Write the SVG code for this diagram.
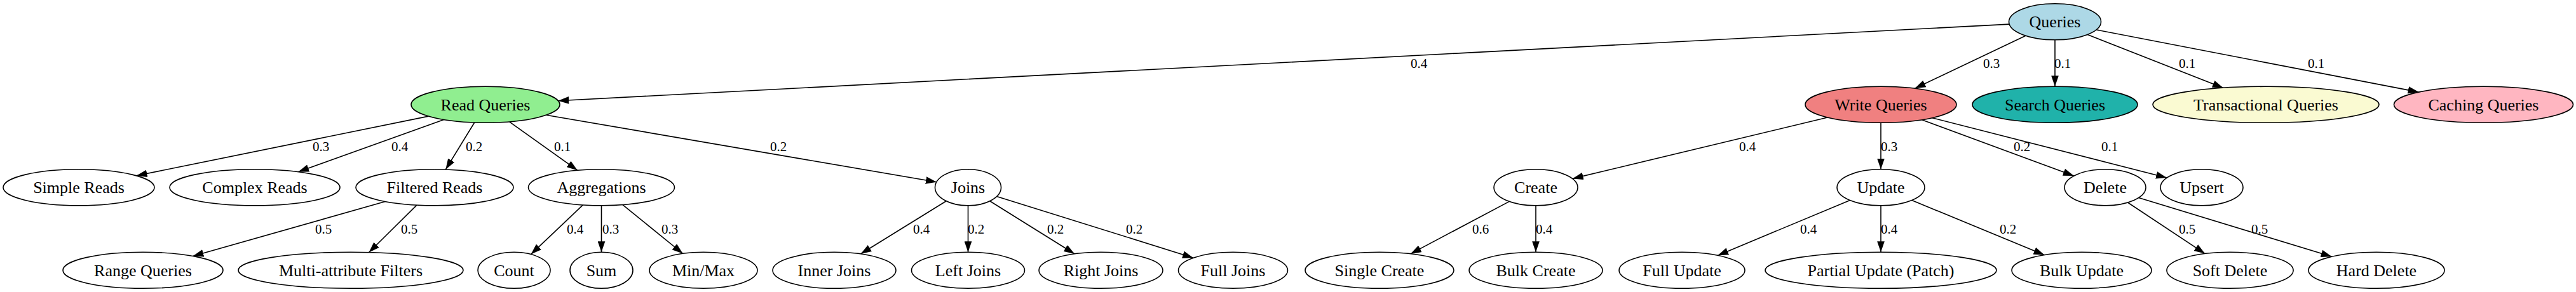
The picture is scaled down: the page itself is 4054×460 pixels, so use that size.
<svg xmlns="http://www.w3.org/2000/svg" width="4054" height="460" viewBox="0 0 4054 460">
<style>
.n ellipse{stroke:#000;stroke-width:1.6;fill:#fff}
.n text{font-family:"Liberation Serif","Times New Roman",serif;font-size:26px;text-anchor:middle;fill:#000}
.e path{stroke:#000;stroke-width:1.6;fill:none;marker-end:url(#ah)}
.e text{font-family:"Liberation Serif","Times New Roman",serif;font-size:21px;fill:#000}
</style>
<defs>
<marker id="ah" markerUnits="userSpaceOnUse" markerWidth="17" markerHeight="12" viewBox="0 0 16 11" refX="16" refY="5.5" orient="auto">
<path d="M0,0 L16,5.5 L0,11 Z" fill="#000"/>
</marker>
</defs>
<rect width="4054" height="460" fill="#fff"/>
<g id="edges" class="e">
<path d="M3162.1,38.1 L878.3,158.8"/><text x="2220" y="107.3">0.4</text>
<path d="M3187.9,56.3 L3013.5,139.3"/><text x="3121" y="107.3">0.3</text>
<path d="M3234,62.8 L3234,136.3"/><text x="3233" y="107.3">0.1</text>
<path d="M3285.3,54.5 L3498.9,138.4"/><text x="3429" y="107.3">0.1</text>
<path d="M3299,46.9 L3806.6,145.1"/><text x="3632" y="107.3">0.1</text>
<path d="M674.3,183.1 L214.6,276.8"/><text x="492" y="237.5">0.3</text>
<path d="M698.4,188.4 L469.2,270.8"/><text x="616" y="237.5">0.4</text>
<path d="M746.7,193 L701.3,267.1"/><text x="733" y="237.5">0.2</text>
<path d="M801.7,191.8 L908.9,268.4"/><text x="872" y="237.5">0.1</text>
<path d="M859.6,181.2 L1473.9,286.8"/><text x="1212" y="237.5">0.2</text>
<path d="M2876,185 L2474.7,281.4"/><text x="2737" y="237.5">0.4</text>
<path d="M2960,193.3 L2960,266.8"/><text x="2960" y="237.5">0.3</text>
<path d="M3024.7,188.7 L3263.8,277.1"/><text x="3169" y="237.5">0.2</text>
<path d="M3040.9,185.7 L3410,280"/><text x="3307" y="237.5">0.1</text>
<path d="M606.1,317.5 L303.4,403.5"/><text x="496" y="368">0.5</text>
<path d="M655.9,323.1 L580.4,397.7"/><text x="631" y="368">0.5</text>
<path d="M917.4,322.9 L835.6,400.6"/><text x="892" y="368">0.4</text>
<path d="M946.5,323.8 L946.5,397.3"/><text x="948" y="368">0.3</text>
<path d="M980,322.6 L1074.6,399.5"/><text x="1041" y="368">0.3</text>
<path d="M1489.1,316.7 L1354.5,400"/><text x="1437" y="368">0.4</text>
<path d="M1523.5,323.8 L1523.5,397.3"/><text x="1523" y="368">0.2</text>
<path d="M1557.8,316.7 L1691.2,400"/><text x="1648" y="368">0.2</text>
<path d="M1568.7,309.4 L1878,406.2"/><text x="1772" y="368">0.2</text>
<path d="M2375.3,317.4 L2219.8,399.9"/><text x="2317" y="368">0.6</text>
<path d="M2417,323.8 L2417,397.3"/><text x="2417" y="368">0.4</text>
<path d="M2911.4,315.5 L2703.2,402.4"/><text x="2833" y="368">0.4</text>
<path d="M2960,323.8 L2960,397.3"/><text x="2960" y="368">0.4</text>
<path d="M3008.8,315.5 L3217.5,401.7"/><text x="3147" y="368">0.2</text>
<path d="M3348.6,319 L3470.1,399.6"/><text x="3429" y="368">0.5</text>
<path d="M3365.8,311.4 L3669.7,404.3"/><text x="3543" y="368">0.5</text>
</g>
<g id="queries" class="n"><ellipse cx="3234" cy="34.3" rx="72.5" ry="28.5" style="fill:#add8e6"/><text x="3234" y="43.3">Queries</text></g>
<g id="read_queries" class="n"><ellipse cx="764" cy="164.8" rx="117" ry="28.5" style="fill:#90ee90"/><text x="764" y="173.8">Read Queries</text></g>
<g id="write_queries" class="n"><ellipse cx="2960" cy="164.8" rx="119" ry="28.5" style="fill:#f08080"/><text x="2960" y="173.8">Write Queries</text></g>
<g id="search_queries" class="n"><ellipse cx="3234" cy="164.8" rx="130" ry="28.5" style="fill:#20b2aa"/><text x="3234" y="173.8">Search Queries</text></g>
<g id="transactional_queries" class="n"><ellipse cx="3566" cy="164.8" rx="178" ry="28.5" style="fill:#fafad2"/><text x="3566" y="173.8">Transactional Queries</text></g>
<g id="caching_queries" class="n"><ellipse cx="3908.5" cy="164.8" rx="141" ry="28.5" style="fill:#ffb6c1"/><text x="3908.5" y="173.8">Caching Queries</text></g>
<g id="simple_reads" class="n"><ellipse cx="124" cy="295.3" rx="119" ry="28.5"/><text x="124" y="304.3">Simple Reads</text></g>
<g id="complex_reads" class="n"><ellipse cx="401" cy="295.3" rx="134" ry="28.5"/><text x="401" y="304.3">Complex Reads</text></g>
<g id="filtered_reads" class="n"><ellipse cx="684" cy="295.3" rx="124" ry="28.5"/><text x="684" y="304.3">Filtered Reads</text></g>
<g id="aggregations" class="n"><ellipse cx="946.5" cy="295.3" rx="115" ry="28.5"/><text x="946.5" y="304.3">Aggregations</text></g>
<g id="joins" class="n"><ellipse cx="1523.5" cy="295.3" rx="52" ry="28.5"/><text x="1523.5" y="304.3">Joins</text></g>
<g id="create" class="n"><ellipse cx="2417" cy="295.3" rx="66" ry="28.5"/><text x="2417" y="304.3">Create</text></g>
<g id="update" class="n"><ellipse cx="2960" cy="295.3" rx="69" ry="28.5"/><text x="2960" y="304.3">Update</text></g>
<g id="delete" class="n"><ellipse cx="3313" cy="295.3" rx="64" ry="28.5"/><text x="3313" y="304.3">Delete</text></g>
<g id="upsert" class="n"><ellipse cx="3465" cy="295.3" rx="65" ry="28.5"/><text x="3465" y="304.3">Upsert</text></g>
<g id="range_queries" class="n"><ellipse cx="225" cy="425.8" rx="126" ry="28.5"/><text x="225" y="434.8">Range Queries</text></g>
<g id="multi_attribute_filters" class="n"><ellipse cx="552" cy="425.8" rx="177" ry="28.5"/><text x="552" y="434.8">Multi-attribute Filters</text></g>
<g id="count" class="n"><ellipse cx="809" cy="425.8" rx="57" ry="28.5"/><text x="809" y="434.8">Count</text></g>
<g id="sum" class="n"><ellipse cx="946.5" cy="425.8" rx="49.5" ry="28.5"/><text x="946.5" y="434.8">Sum</text></g>
<g id="min_max" class="n"><ellipse cx="1107" cy="425.8" rx="85" ry="28.5"/><text x="1107" y="434.8">Min/Max</text></g>
<g id="inner_joins" class="n"><ellipse cx="1313" cy="425.8" rx="97" ry="28.5"/><text x="1313" y="434.8">Inner Joins</text></g>
<g id="left_joins" class="n"><ellipse cx="1523.5" cy="425.8" rx="89" ry="28.5"/><text x="1523.5" y="434.8">Left Joins</text></g>
<g id="right_joins" class="n"><ellipse cx="1732.5" cy="425.8" rx="97.5" ry="28.5"/><text x="1732.5" y="434.8">Right Joins</text></g>
<g id="full_joins" class="n"><ellipse cx="1940.5" cy="425.8" rx="86" ry="28.5"/><text x="1940.5" y="434.8">Full Joins</text></g>
<g id="single_create" class="n"><ellipse cx="2171" cy="425.8" rx="117" ry="28.5"/><text x="2171" y="434.8">Single Create</text></g>
<g id="bulk_create" class="n"><ellipse cx="2417" cy="425.8" rx="105" ry="28.5"/><text x="2417" y="434.8">Bulk Create</text></g>
<g id="full_update" class="n"><ellipse cx="2647" cy="425.8" rx="99" ry="28.5"/><text x="2647" y="434.8">Full Update</text></g>
<g id="partial_update" class="n"><ellipse cx="2960" cy="425.8" rx="182" ry="28.5"/><text x="2960" y="434.8">Partial Update (Patch)</text></g>
<g id="bulk_update" class="n"><ellipse cx="3276" cy="425.8" rx="110" ry="28.5"/><text x="3276" y="434.8">Bulk Update</text></g>
<g id="soft_delete" class="n"><ellipse cx="3509.5" cy="425.8" rx="99.6" ry="28.5"/><text x="3509.5" y="434.8">Soft Delete</text></g>
<g id="hard_delete" class="n"><ellipse cx="3740" cy="425.8" rx="107" ry="28.5"/><text x="3740" y="434.8">Hard Delete</text></g>
</svg>
